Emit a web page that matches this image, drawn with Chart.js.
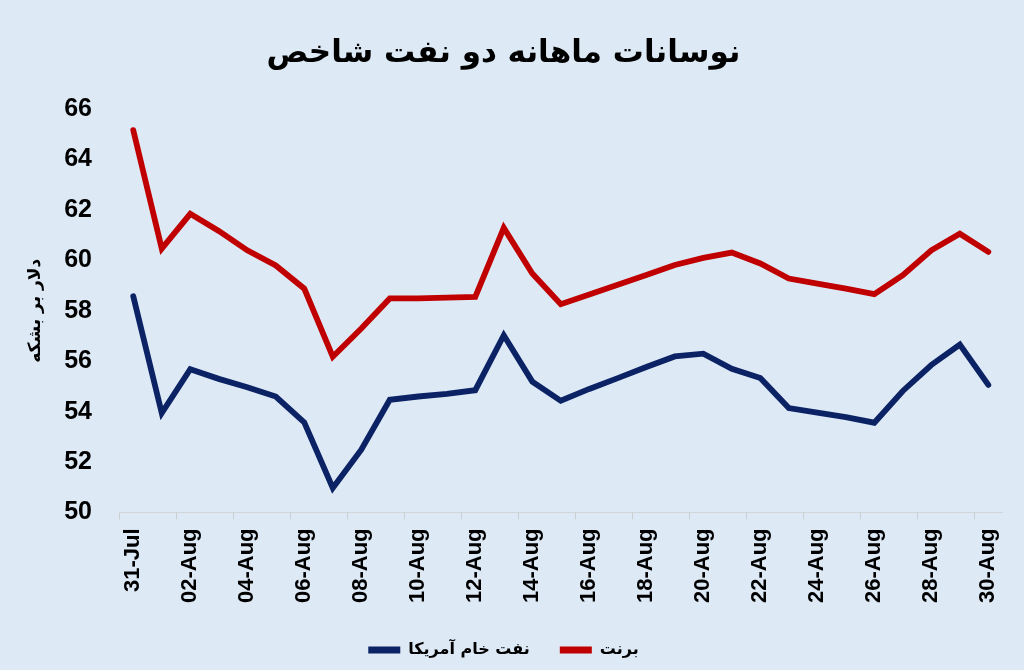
<!DOCTYPE html>
<html>
<head>
<meta charset="utf-8">
<script src="https://cdn.jsdelivr.net/npm/chart.js@4.4.1/dist/chart.umd.min.js"></script>
<style>
    html, body { margin: 0; padding: 0; background: #dde9f5; }
    #chart { display: block; }
</style>
</head>
<body>
<canvas id="chart" width="1024" height="670"></canvas>
<script>
const chart_title = "نوسانات ماهانه دو نفت شاخص";
const y_title = "دلار بر بشکه";

const dates = [
    "31-Jul", "01-Aug", "02-Aug", "03-Aug", "04-Aug", "05-Aug", "06-Aug", "07-Aug",
    "08-Aug", "09-Aug", "10-Aug", "11-Aug", "12-Aug", "13-Aug", "14-Aug", "15-Aug",
    "16-Aug", "17-Aug", "18-Aug", "19-Aug", "20-Aug", "21-Aug", "22-Aug", "23-Aug",
    "24-Aug", "25-Aug", "26-Aug", "27-Aug", "28-Aug", "29-Aug", "30-Aug"
];

const wti_name = "نفت خام آمریکا";
const wti = [
    58.58, 53.94, 55.68, 55.30, 54.97, 54.60, 53.57, 50.97,
    52.49, 54.47, 54.60, 54.70, 54.85, 57.03, 55.19, 54.43,
    54.90, 55.33, 55.77, 56.19, 56.30, 55.70, 55.33, 54.14,
    53.96, 53.78, 53.56, 54.82, 55.85, 56.66, 55.06
];

const brent_name = "برنت";
const brent = [
    65.17, 60.47, 61.85, 61.17, 60.40, 59.80, 58.88, 56.18,
    57.30, 58.49, 58.49, 58.52, 58.55, 61.29, 59.48, 58.26,
    58.65, 59.03, 59.42, 59.82, 60.10, 60.31, 59.88, 59.28,
    59.08, 58.88, 58.66, 59.41, 60.40, 61.06, 60.34
];

const y_min = 50;
const y_max = 66;
const y_step = 2;

const bg_color = "#dde9f5";
const wti_color = "#0b2265";
const brent_color = "#c00000";
const fa_font = "'DejaVu Sans', sans-serif";
const num_font = "'Liberation Sans', Arial, sans-serif";

// paint the light blue backdrop behind everything
const backdrop = {
    id: "backdrop",
    beforeDraw(chart) {
        const ctx = chart.ctx;
        ctx.save();
        ctx.fillStyle = bg_color;
        ctx.fillRect(0, 0, chart.width, chart.height);
        ctx.restore();
    }
};

function make_dataset(name, values, color) {
    return {
        label: name,
        data: values,
        borderColor: color,
        backgroundColor: color,
        borderWidth: 5.8,
        borderCapStyle: "round",
        borderJoinStyle: "miter",
        pointRadius: 0,
        pointHoverRadius: 0,
        tension: 0,
        fill: false
    };
}

function legend_labels(chart) {
    return chart.data.datasets.map((ds, i) => ({
        text: ds.label,
        fillStyle: ds.borderColor,
        strokeStyle: ds.borderColor,
        lineWidth: 0,
        fontColor: "#000",
        hidden: false,
        datasetIndex: i
    }));
}

const config = {
    type: "line",
    data: {
        labels: dates,
        datasets: [
            make_dataset(wti_name, wti, wti_color),
            make_dataset(brent_name, brent, brent_color)
        ]
    },
    options: {
        responsive: false,
        animation: false,
        layout: {
            padding: {left: 0, right: 17, top: 0, bottom: 2}
        },
        plugins: {
            title: {
                display: true,
                text: chart_title,
                color: "#000",
                font: {family: fa_font, size: 31, weight: "bold"},
                padding: {top: 35, bottom: 37}
            },
            legend: {
                position: "bottom",
                labels: {
                    generateLabels: legend_labels,
                    boxWidth: 32,
                    boxHeight: 7,
                    padding: 30,
                    color: "#000",
                    font: {family: fa_font, size: 16, weight: "bold"}
                }
            },
            tooltip: {enabled: false}
        },
        scales: {
            x: {
                offset: true,
                grid: {
                    display: true,
                    offset: true,
                    drawOnChartArea: false,
                    drawTicks: true,
                    tickLength: 7,
                    color: ctx => (ctx.index % 2 === 0 ? "rgba(190,190,190,0.6)" : "rgba(0,0,0,0)")
                },
                border: {display: true, color: "rgba(200,200,200,0.6)", width: 1},
                ticks: {
                    autoSkip: false,
                    minRotation: 90,
                    maxRotation: 90,
                    padding: 9,
                    color: "#000",
                    font: {family: num_font, size: 22, weight: "bold"},
                    callback: function (value, index) {
                        return index % 2 === 0 ? this.getLabelForValue(value) : "";
                    }
                }
            },
            y: {
                min: y_min,
                max: y_max,
                grid: {display: false, drawTicks: false},
                border: {display: false},
                ticks: {
                    stepSize: y_step,
                    padding: 27,
                    color: "#000",
                    font: {family: num_font, size: 25, weight: "bold"}
                },
                title: {
                    display: true,
                    text: y_title,
                    color: "#000",
                    font: {family: fa_font, size: 17, weight: "bold"},
                    padding: {top: 25, bottom: 0}
                },
                afterFit: scale => { scale.width = 119; }
            }
        }
    },
    plugins: [backdrop]
};

new Chart(document.getElementById("chart").getContext("2d"), config);
</script>
</body>
</html>
